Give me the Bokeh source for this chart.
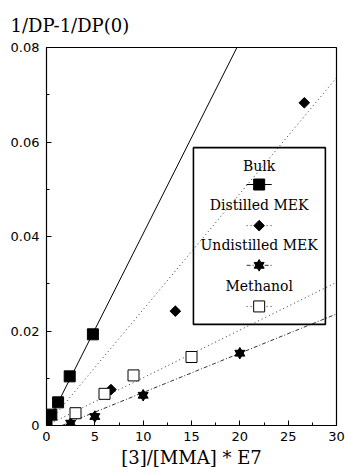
from bokeh.plotting import figure
from bokeh.models import Range1d, FixedTicker, CustomJSTickFormatter, BoxAnnotation, Label
from bokeh.embed import file_html
from bokeh.resources import INLINE
import math

# ---- data ----
bulk_x = [0, 0.5, 1.2, 2.4, 4.8]
bulk_y = [0.0, 0.0023, 0.0049, 0.0104, 0.0193]
dist_x = [6.67, 13.33, 26.67]
dist_y = [0.0076, 0.0242, 0.0683]
undist_x = [2.5, 5, 10, 20]
undist_y = [0.0005, 0.0019, 0.0064, 0.0153]
meth_x = [3, 6, 9, 15]
meth_y = [0.0026, 0.0067, 0.0106, 0.0145]

# fitted lines (end points)
bulk_fit_x = [0, 19.7]
bulk_fit_y = [0.0, 0.08]
dist_fit_x = [0, 30]
dist_fit_y = [0.0, 0.0736]
undist_fit_x = [1.6, 30]
undist_fit_y = [0.0, 0.0236]
meth_fit_x = [0, 30]
meth_fit_y = [0.0, 0.0303]

x_ticks = [0, 5, 10, 15, 20, 25, 30]
x_minor = [2.5, 7.5, 12.5, 17.5, 22.5, 27.5]
y_ticks = [0, 0.02, 0.04, 0.06, 0.08]
y_minor = [0.01, 0.03, 0.05, 0.07]

legend_labels = ["Bulk", "Distilled MEK", "Undistilled MEK", "Methanol"]

SERIF = "DejaVu Serif"
SANS = "DejaVu Sans"

p = figure(width=345, height=476, output_backend="svg", toolbar_location=None,
           x_range=Range1d(0, 30), y_range=Range1d(0, 0.08),
           min_border_left=46, min_border_right=9, min_border_top=47, min_border_bottom=51)
p.background_fill_color = "white"
p.border_fill_color = "white"
p.outline_line_color = "black"
p.outline_line_width = 1.2
p.xgrid.visible = False
p.ygrid.visible = False

p.title.text = "1/DP-1/DP(0)"
p.title.text_font = SERIF
p.title.text_font_size = "18px"
p.title.text_font_style = "normal"
p.title.text_color = "black"
p.title.align = "left"
p.title.offset = -36
p.title.standoff = 24

for ax in (p.xaxis[0], p.yaxis[0]):
    ax.major_tick_in = 5
    ax.major_tick_out = 0
    ax.minor_tick_in = 3
    ax.minor_tick_out = 0
    ax.axis_line_color = "black"
    ax.major_tick_line_color = "black"
    ax.minor_tick_line_color = "black"
    ax.major_label_text_font = SANS
    ax.major_label_text_font_size = "13px"
    ax.major_label_text_color = "black"

p.xaxis.ticker = FixedTicker(ticks=x_ticks, minor_ticks=x_minor)
p.yaxis.ticker = FixedTicker(ticks=y_ticks, minor_ticks=y_minor)
p.yaxis.formatter = CustomJSTickFormatter(code="return tick == 0 ? '0' : tick.toFixed(2);")
p.xaxis.major_label_standoff = 6
p.yaxis.major_label_standoff = 7

p.xaxis.axis_label = "[3]/[MMA] * E7"
p.xaxis.axis_label_text_font = SERIF
p.xaxis.axis_label_text_font_size = "18px"
p.xaxis.axis_label_text_font_style = "normal"
p.xaxis.axis_label_text_color = "black"
p.xaxis.axis_label_standoff = 3

# fit lines
p.line(bulk_fit_x, bulk_fit_y, line_color="black", line_width=1)
p.line(dist_fit_x, dist_fit_y, line_color="#333333", line_width=1, line_dash="1 3")
p.line(undist_fit_x, undist_fit_y, line_color="#333333", line_width=1, line_dash="4 2 1 2")
p.line(meth_fit_x, meth_fit_y, line_color="#333333", line_width=1, line_dash="1 3")

# data points
p.scatter(bulk_x, bulk_y, marker="square", size=11, fill_color="black", line_color="black")
p.scatter(dist_x, dist_y, marker="square", angle=math.pi / 4, size=7.5,
          fill_color="black", line_color="black")
p.scatter(undist_x, undist_y, marker="triangle", size=10, fill_color="black", line_color="black")
p.scatter(undist_x, undist_y, marker="inverted_triangle", size=10, fill_color="black", line_color="black")
p.scatter(meth_x, meth_y, marker="square", size=11, fill_color="white", line_color="black", line_width=1)

# legend (drawn by hand: label above its sample)
box = BoxAnnotation(left=15.2, right=28.85, bottom=0.0214, top=0.0588,
                    fill_alpha=0, line_color="black", line_alpha=1, line_width=1.6)
p.add_layout(box)

lx = 22.0
label_y = [0.0550, 0.0466, 0.0381, 0.0296]
sample_y = [0.0510, 0.0423, 0.0339, 0.0252]
for txt, ty in zip(legend_labels, label_y):
    p.add_layout(Label(x=lx, y=ty, text=txt, text_align="center", text_baseline="middle",
                       text_font=SERIF, text_font_size="14px", text_color="black"))

seg_x = [lx - 1.3, lx + 1.3]
p.line(seg_x, [sample_y[0]] * 2, line_color="black", line_width=1)
p.line(seg_x, [sample_y[1]] * 2, line_color="#333333", line_width=1, line_dash="1 3")
p.line(seg_x, [sample_y[2]] * 2, line_color="#333333", line_width=1, line_dash="4 2 1 2")
p.line(seg_x, [sample_y[3]] * 2, line_color="#333333", line_width=1, line_dash="1 3")
p.scatter([lx], [sample_y[0]], marker="square", size=11, fill_color="black", line_color="black")
p.scatter([lx], [sample_y[1]], marker="square", angle=math.pi / 4, size=7.5,
          fill_color="black", line_color="black")
p.scatter([lx], [sample_y[2]], marker="triangle", size=10, fill_color="black", line_color="black")
p.scatter([lx], [sample_y[2]], marker="inverted_triangle", size=10, fill_color="black", line_color="black")
p.scatter([lx], [sample_y[3]], marker="square", size=11, fill_color="white", line_color="black")

open("out.html", "w").write(file_html(p, INLINE))
